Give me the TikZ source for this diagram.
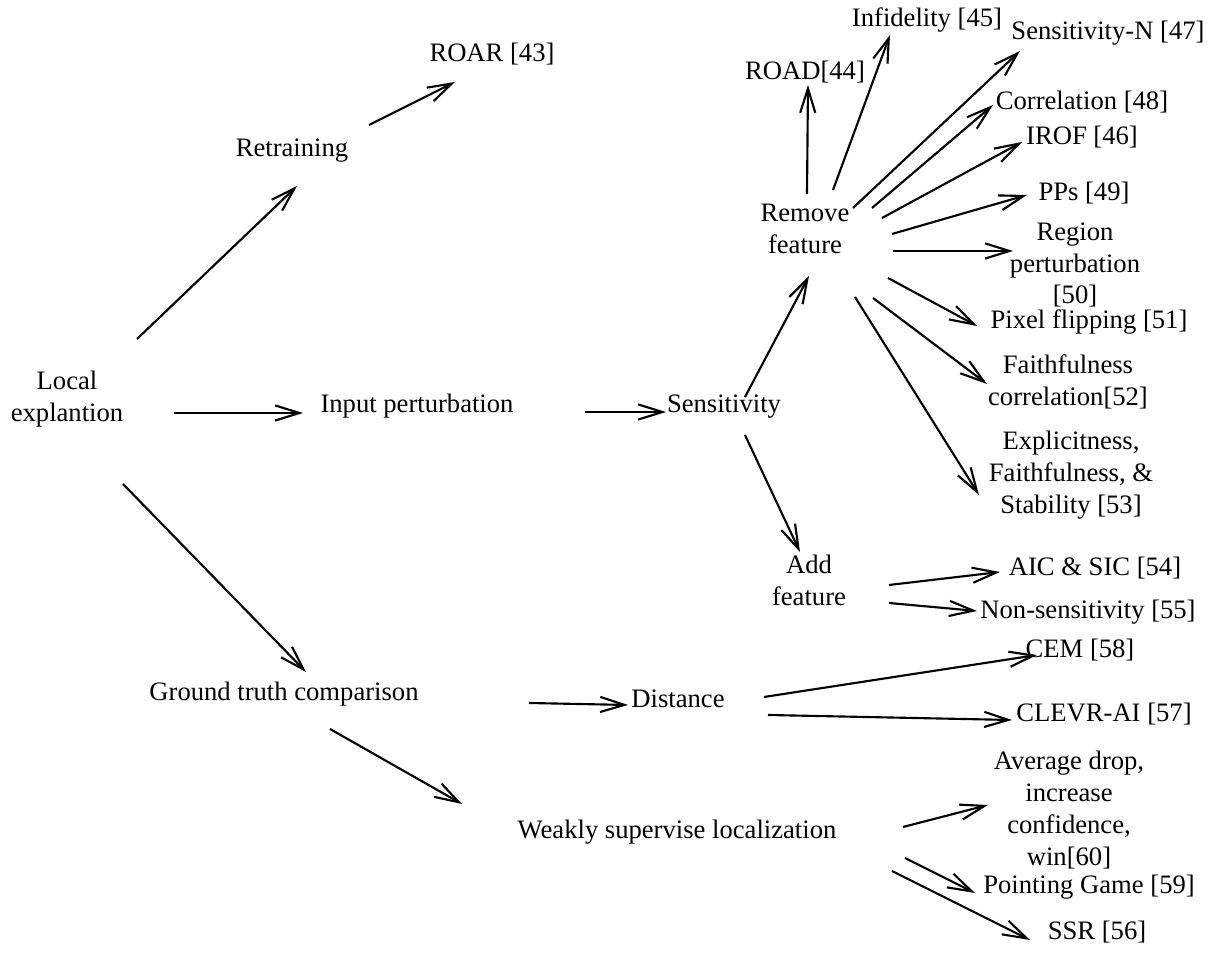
\documentclass[tikz,border=0pt]{standalone}
\usepackage{fontspec}
\setmainfont{Liberation Serif}
\usetikzlibrary{arrows.meta}

\begin{document}
\begin{tikzpicture}[x=0.132mm, y=-0.132mm,
    every node/.style={align=center, inner sep=2pt},
    arr/.style={thick, -{Straight Barb[length=3.2mm, width=2mm]}}]
    \useasboundingbox (0,0) rectangle (1213,954);

    % Root and first level
    \node (loc) at (67,399) {Local\\explantion};
    \node (ret) at (292,151) {Retraining};
    \node (inp) at (417,406) {Input perturbation};
    \node (gtc) at (284,694) {Ground truth comparison};

    % Retraining branch
    \node (roar) at (492,54) {ROAR [43]};

    % Input perturbation branch
    \node (sen) at (724,407) {Sensitivity};
    \node (rem) at (805,229) {Remove\\feature};
    \node (add) at (809,580) {Add\\feature};

    % Remove feature leaves
    \node (road) at (805,72) {ROAD[44]};
    \node (infid) at (927,20) {Infidelity [45]};
    \node (sensn) at (1108,33) {Sensitivity-N [47]};
    \node (corr) at (1082,102) {Correlation [48]};
    \node (irof) at (1082,137) {IROF [46]};
    \node (pps) at (1084,193) {PPs [49]};
    \node (region) at (1075,265) {Region\\perturbation\\{[50]}};
    \node (pix) at (1089,322) {Pixel flipping [51]};
    \node (faith) at (1068,382) {Faithfulness\\correlation[52]};
    \node (expl) at (1071,475) {Explicitness,\\Faithfulness, \&\\Stability [53]};

    % Add feature leaves
    \node (aic) at (1095,568) {AIC \& SIC [54]};
    \node (nons) at (1088,612) {Non-sensitivity [55]};

    % Ground truth branch
    \node (dist) at (678,699) {Distance};
    \node (cem) at (1080,650) {CEM [58]};
    \node (clevr) at (1104,714) {CLEVR-AI [57]};
    \node (weak) at (677,832) {Weakly supervise localization};
    \node (avg) at (1069,810) {Average drop,\\increase\\confidence,\\win[60]};
    \node (point) at (1089,887) {Pointing Game [59]};
    \node (ssr) at (1097,932) {SSR [56]};

    % Connectors (ends offset from the node centres)
    \draw[arr] ([shift={(70,-60)}]loc.center) -- ([shift={(5,35)}]ret.center);
    \draw[arr] ([shift={(107,14)}]loc.center) -- ([shift={(-114,7)}]inp.center);
    \draw[arr] ([shift={(56,85)}]loc.center) -- ([shift={(22,-22)}]gtc.center);
    \draw[arr] ([shift={(77,-26)}]ret.center) -- ([shift={(-37,28)}]roar.center);
    \draw[arr] ([shift={(168,6)}]inp.center) -- ([shift={(-58,5)}]sen.center);
    \draw[arr] ([shift={(21,-10)}]sen.center) -- ([shift={(4,47)}]rem.center);
    \draw[arr] ([shift={(21,28)}]sen.center) -- ([shift={(-9,-28)}]add.center);

    \draw[arr] ([shift={(2,-35)}]rem.center) -- ([shift={(3,13)}]road.center);
    \draw[arr] ([shift={(28,-39)}]rem.center) -- ([shift={(-37,15)}]infid.center);
    \draw[arr] ([shift={(48,-21)}]rem.center) -- ([shift={(-88,18)}]sensn.center);
    \draw[arr] ([shift={(67,-21)}]rem.center) -- ([shift={(-89,3)}]corr.center);
    \draw[arr] ([shift={(77,-11)}]rem.center) -- ([shift={(-60,5)}]irof.center);
    \draw[arr] ([shift={(87,5)}]rem.center) -- ([shift={(-57,2)}]pps.center);
    \draw[arr] ([shift={(88,22)}]rem.center) -- ([shift={(-62,-14)}]region.center);
    \draw[arr] ([shift={(83,49)}]rem.center) -- ([shift={(-112,4)}]pix.center);
    \draw[arr] ([shift={(68,69)}]rem.center) -- ([shift={(-81,2)}]faith.center);
    \draw[arr] ([shift={(50,68)}]rem.center) -- ([shift={(-92,20)}]expl.center);

    \draw[arr] ([shift={(80,5)}]add.center) -- ([shift={(-95,4)}]aic.center);
    \draw[arr] ([shift={(80,23)}]add.center) -- ([shift={(-111,-1)}]nons.center);

    \draw[arr] ([shift={(245,9)}]gtc.center) -- ([shift={(-50,6)}]dist.center);
    \draw[arr] ([shift={(46,35)}]gtc.center) -- ([shift={(-215,-28)}]weak.center);
    \draw[arr] ([shift={(86,-2)}]dist.center) -- ([shift={(-43,5)}]cem.center);
    \draw[arr] ([shift={(90,16)}]dist.center) -- ([shift={(-92,6)}]clevr.center);
    \draw[arr] ([shift={(226,-5)}]weak.center) -- ([shift={(-81,-5)}]avg.center);
    \draw[arr] ([shift={(228,26)}]weak.center) -- ([shift={(-114,6)}]point.center);
    \draw[arr] ([shift={(215,39)}]weak.center) -- ([shift={(-67,8)}]ssr.center);
\end{tikzpicture}
\end{document}
